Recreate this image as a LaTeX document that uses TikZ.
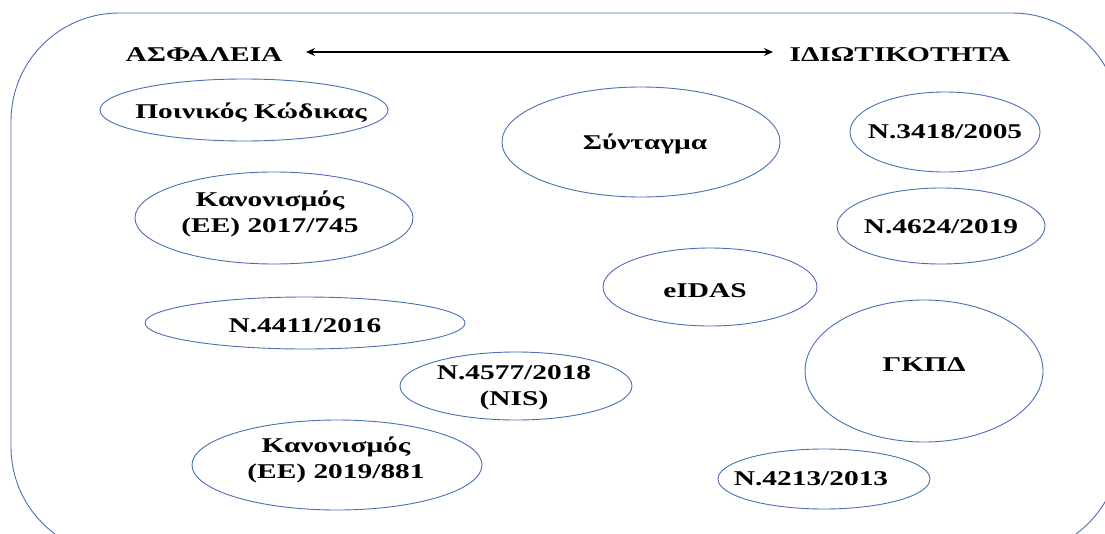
\documentclass[tikz,border=0pt]{standalone}
\usepackage{fontspec}
\setmainfont{Liberation Serif}[FakeStretch=1.4]
\usetikzlibrary{shapes.geometric,arrows.meta}
\definecolor{ovalblue}{HTML}{4A6FB5}
\begin{document}
\begin{tikzpicture}[x=1pt,y=-1pt,
  oval/.style={draw=ovalblue,line width=0.9pt,ellipse,inner sep=0pt},
  lbl/.style={font=\fontsize{21}{26}\selectfont\bfseries,inner sep=0pt,align=center},
  ttl/.style={font=\fontsize{21}{26}\selectfont\bfseries,inner sep=0pt,anchor=base}]
\useasboundingbox (0,0) rectangle (1105,533);
\begin{scope}
\clip (0,0) rectangle (1105,533);
\draw[draw=ovalblue,line width=0.9pt,rounded corners=108pt] (11,13) rectangle (1120,555);
\end{scope}
% titles and arrow
\node[ttl] (asf) at (204,61.5) {ΑΣΦΑΛΕΙΑ};
\node[ttl] (idi) at (900,61.5) {ΙΔΙΩΤΙΚΟΤΗΤΑ};
\coordinate (al) at (306,52);
\coordinate (ar) at (773,52);
\draw[line width=1.6pt,{Stealth[length=9pt,width=8pt]}-{Stealth[length=9pt,width=8pt]}] (al) -- (ar);
% ellipses
\node[oval,minimum width=288,minimum height=62] (pk) at (244,110) {};
\node[lbl,anchor=base] (pkt) at (251,118) {Ποινικός Κώδικας};
\node[oval,minimum width=278,minimum height=110] (syn) at (641,142) {};
\node[lbl,anchor=base] (synt) at (645,149) {Σύνταγμα};
\node[oval,minimum width=190,minimum height=80] (n34) at (945,132) {};
\node[lbl,anchor=base] (n34t) at (945,138) {N.3418/2005};
\node[oval,minimum width=278,minimum height=92] (k17) at (274,218) {};
\node[lbl] (k17t) at (270,214) {Κανονισμός\\(ΕΕ) 2017/745};
\node[oval,minimum width=208,minimum height=76] (n46) at (941,226) {};
\node[lbl,anchor=base] (n46t) at (941,233) {N.4624/2019};
\node[oval,minimum width=214,minimum height=78] (eid) at (710,287) {};
\node[lbl,anchor=base] (eidt) at (705,297) {eIDAS};
\node[oval,minimum width=320,minimum height=52] (n44) at (305,323) {};
\node[lbl,anchor=base] (n44t) at (305,332) {N.4411/2016};
\node[oval,minimum width=232,minimum height=68] (n45) at (516,386) {};
\node[lbl] (n45t) at (514,388) {N.4577/2018\\(NIS)};
\node[oval,minimum width=238,minimum height=142] (gk) at (924,371) {};
\node[lbl,anchor=base] (gkt) at (924,371) {ΓΚΠΔ};
\node[oval,minimum width=290,minimum height=90] (k19) at (337,465) {};
\node[lbl] (k19t) at (336,460) {Κανονισμός\\(ΕΕ) 2019/881};
\node[oval,minimum width=212,minimum height=60] (n42) at (824,479) {};
\node[lbl,anchor=base] (n42t) at (811,485) {N.4213/2013};
\end{tikzpicture}
\end{document}
